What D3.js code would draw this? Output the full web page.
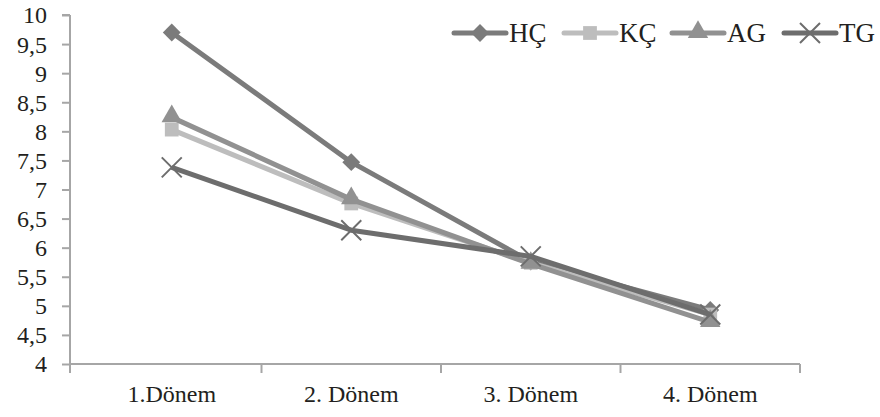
<!DOCTYPE html>
<html>
<head>
<meta charset="utf-8">
<script src="https://cdn.jsdelivr.net/npm/d3@7"></script>
<style>
  body { margin: 0; background: #fff; }
  text { font-family: "Liberation Serif", "DejaVu Serif", serif; fill: #231f20; }
</style>
</head>
<body>
<div id="chart"></div>
<script>
// data
var periods = ["1.Dönem", "2. Dönem", "3. Dönem", "4. Dönem"];
var seriesNames = ["HÇ", "KÇ", "AG", "TG"];
var hcValues = [9.7, 7.47, 5.76, 4.93];
var kcValues = [8.03, 6.76, 5.74, 4.85];
var agValues = [8.24, 6.83, 5.72, 4.72];
var tgValues = [7.38, 6.3, 5.85, 4.85];
var yTicks = [4, 4.5, 5, 5.5, 6, 6.5, 7, 7.5, 8, 8.5, 9, 9.5, 10];

var W = 880, H = 417;
var margin = { top: 15, right: 80, bottom: 53, left: 70 },
    width = W - margin.left - margin.right,
    height = H - margin.top - margin.bottom;

var svg = d3.select("#chart").append("svg")
    .attr("width", W).attr("height", H)
    .append("g")
    .attr("transform", "translate(" + margin.left + "," + margin.top + ")");

var x = d3.scaleBand().domain(periods).range([12, width]);
var y = d3.scaleLinear().domain([4, 10]).range([height, 0]);

var fmt = function (d) { return String(d).replace(".", ","); };

// Y axis
var yAxis = svg.append("g")
    .call(d3.axisLeft(y).tickValues(yTicks).tickFormat(fmt).tickSize(8).tickPadding(15));
yAxis.selectAll("line, path").attr("stroke", "#a6a6a6").attr("stroke-width", 2);
yAxis.select("path").attr("d", "M0," + height + "V0M-8,0H0");
yAxis.selectAll("text").style("font-size", "24px").attr("dy", "0.33em");

// X axis
var xAxis = svg.append("g")
    .attr("transform", "translate(0," + height + ")")
    .call(d3.axisBottom(x).tickSize(0).tickPadding(21));
xAxis.select("path").attr("stroke", "#a6a6a6").attr("stroke-width", 2)
    .attr("d", "M0,0H" + width);
xAxis.selectAll("text").style("font-size", "24px");
// category boundary ticks
svg.append("g").selectAll("line")
    .data([0].concat(periods.map(function (p) { return x(p) + x.bandwidth(); })))
    .enter().append("line")
    .attr("x1", function (d) { return d; })
    .attr("x2", function (d) { return d; })
    .attr("y1", height).attr("y2", height + 9)
    .attr("stroke", "#a6a6a6").attr("stroke-width", 2);

var series = [
    { name: "HÇ", values: hcValues, color: "#7b7b7b", sym: "diamond" },
    { name: "KÇ", values: kcValues, color: "#bdbdbd", sym: "square" },
    { name: "AG", values: agValues, color: "#919191", sym: "triangle" },
    { name: "TG", values: tgValues, color: "#6d6d6d", sym: "cross" }
];

var line = d3.line()
    .x(function (d, i) { return x(periods[i]) + x.bandwidth() / 2; })
    .y(function (d) { return y(d); });

function drawMarker(g, s, cx, cy) {
    if (s.sym == "diamond") {
        g.append("path").attr("d", d3.symbol().type(d3.symbolSquare).size(160))
            .attr("transform", "translate(" + cx + "," + cy + ") rotate(45)")
            .attr("fill", s.color);
    } else if (s.sym == "square") {
        g.append("path").attr("d", d3.symbol().type(d3.symbolSquare).size(190))
            .attr("transform", "translate(" + cx + "," + cy + ")")
            .attr("fill", s.color);
    } else if (s.sym == "triangle") {
        g.append("path").attr("d", d3.symbol().type(d3.symbolTriangle).size(180))
            .attr("transform", "translate(" + cx + "," + (cy - 1) + ")")
            .attr("fill", s.color);
    } else {
        g.append("path").attr("d", "M-10,-10L10,10M-10,10L10,-10")
            .attr("transform", "translate(" + cx + "," + cy + ")")
            .attr("stroke", s.color).attr("stroke-width", 2).attr("fill", "none");
    }
}

series.forEach(function (s) {
    var g = svg.append("g");
    g.append("path").datum(s.values)
        .attr("d", line)
        .attr("fill", "none")
        .attr("stroke", s.color)
        .attr("stroke-width", 5)
        .attr("stroke-linejoin", "round");
    s.values.forEach(function (v, i) {
        drawMarker(g, s, x(periods[i]) + x.bandwidth() / 2, y(v));
    });
});

// legend
var legendX = [452, 562, 670, 782];
var legend = svg.append("g").attr("transform", "translate(" + (-margin.left) + "," + (33 - margin.top) + ")");
series.forEach(function (s, i) {
    var lg = legend.append("g").attr("transform", "translate(" + legendX[i] + ",0)");
    lg.append("line").attr("x1", 2).attr("x2", 54).attr("y1", 0).attr("y2", 0)
        .attr("stroke", s.color).attr("stroke-width", 5).attr("stroke-linecap", "round");
    drawMarker(lg, s, 28, 0);
    lg.append("text").attr("x", 57).attr("y", 0).attr("dy", "0.35em")
        .style("font-size", "27px").text(s.name);
});
</script>
</body>
</html>
